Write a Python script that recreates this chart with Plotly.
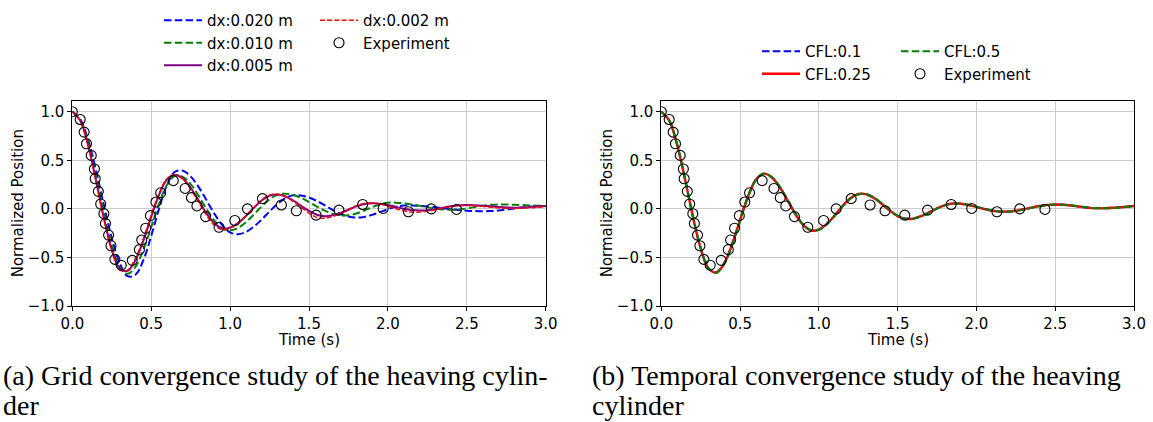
import plotly.graph_objects as go
from plotly.subplots import make_subplots

W, H = 1153, 422

# simulation output times (s)
t_sim = [0.00, 0.05, 0.10, 0.15, 0.20, 0.25, 0.30, 0.35, 0.40, 0.45, 0.50, 0.55, 0.60,
         0.65, 0.70, 0.75, 0.80, 0.85, 0.90, 0.95, 1.00, 1.05, 1.10, 1.15, 1.20, 1.25,
         1.30, 1.35, 1.40, 1.45, 1.50, 1.55, 1.60, 1.65, 1.70, 1.75, 1.80, 1.85, 1.90,
         1.95, 2.00, 2.05, 2.10, 2.15, 2.20, 2.25, 2.30, 2.35, 2.40, 2.45, 2.50, 2.55,
         2.60, 2.65, 2.70, 2.75, 2.80, 2.85, 2.90, 2.95, 3.00]

# (a) grid convergence
dx_020 = [1.000, 0.924, 0.711, 0.397, 0.039, -0.299, -0.558, -0.693, -0.679, -0.529, -0.279, 0.002, 0.244,
          0.382, 0.392, 0.334, 0.226, 0.090, -0.049, -0.168, -0.243, -0.261, -0.238, -0.184, -0.110, -0.027,
          0.050, 0.109, 0.139, 0.138, 0.117, 0.081, 0.036, -0.012, -0.053, -0.080, -0.090, -0.083, -0.062,
          -0.034, -0.004, 0.021, 0.034, 0.034, 0.031, 0.025, 0.017, 0.007, -0.003, -0.012, -0.019, -0.023,
          -0.025, -0.023, -0.017, -0.008, 0.003, 0.013, 0.022, 0.028, 0.030]
dx_010 = [1.000, 0.915, 0.678, 0.335, -0.042, -0.377, -0.601, -0.669, -0.598, -0.423, -0.187, 0.055, 0.245,
          0.339, 0.329, 0.255, 0.136, 0.001, -0.121, -0.201, -0.221, -0.196, -0.138, -0.059, 0.025, 0.098,
          0.144, 0.156, 0.142, 0.113, 0.071, 0.024, -0.019, -0.051, -0.068, -0.067, -0.048, -0.017, 0.018,
          0.048, 0.063, 0.064, 0.057, 0.045, 0.031, 0.015, 0.002, -0.007, -0.010, -0.006, 0.004, 0.018,
          0.031, 0.041, 0.045, 0.044, 0.042, 0.039, 0.035, 0.032, 0.030]
dx_005 = [1.000, 0.909, 0.655, 0.294, -0.091, -0.418, -0.615, -0.638, -0.528, -0.329, -0.084, 0.145, 0.303,
          0.352, 0.313, 0.217, 0.088, -0.045, -0.148, -0.200, -0.193, -0.147, -0.074, 0.010, 0.086, 0.135,
          0.147, 0.128, 0.086, 0.031, -0.022, -0.061, -0.075, -0.066, -0.042, -0.009, 0.025, 0.049, 0.058,
          0.053, 0.039, 0.020, 0.001, -0.013, -0.018, -0.014, -0.004, 0.011, 0.026, 0.036, 0.040, 0.038,
          0.033, 0.026, 0.019, 0.014, 0.012, 0.014, 0.018, 0.023, 0.028]
dx_002 = [1.000, 0.905, 0.645, 0.280, -0.108, -0.432, -0.628, -0.630, -0.510, -0.305, -0.062, 0.160, 0.310,
          0.350, 0.305, 0.202, 0.070, -0.065, -0.168, -0.214, -0.200, -0.150, -0.072, 0.015, 0.094, 0.142,
          0.150, 0.124, 0.075, 0.015, -0.045, -0.088, -0.097, -0.080, -0.047, -0.006, 0.032, 0.056, 0.061,
          0.050, 0.028, 0.002, -0.020, -0.033, -0.034, -0.025, -0.010, 0.008, 0.023, 0.032, 0.035, 0.032,
          0.025, 0.017, 0.010, 0.006, 0.005, 0.007, 0.011, 0.016, 0.021]

# (b) temporal convergence
cfl_01 = [1.000, 0.910, 0.660, 0.306, -0.078, -0.408, -0.613, -0.652, -0.556, -0.360, -0.112, 0.126, 0.298,
          0.360, 0.325, 0.228, 0.092, -0.050, -0.162, -0.219, -0.211, -0.155, -0.068, 0.028, 0.107, 0.151,
          0.149, 0.112, 0.051, -0.016, -0.072, -0.100, -0.098, -0.073, -0.036, 0.005, 0.038, 0.054, 0.052,
          0.039, 0.020, 0.000, -0.018, -0.027, -0.027, -0.019, -0.005, 0.012, 0.027, 0.039, 0.043, 0.041,
          0.034, 0.024, 0.015, 0.009, 0.008, 0.010, 0.015, 0.022, 0.029]
cfl_025 = [1.000, 0.911, 0.662, 0.309, -0.075, -0.406, -0.614, -0.655, -0.559, -0.362, -0.113, 0.127, 0.300,
           0.362, 0.326, 0.228, 0.091, -0.052, -0.165, -0.222, -0.213, -0.156, -0.068, 0.029, 0.109, 0.153,
           0.150, 0.112, 0.050, -0.018, -0.075, -0.103, -0.100, -0.074, -0.036, 0.006, 0.039, 0.055, 0.052,
           0.039, 0.019, -0.002, -0.020, -0.029, -0.028, -0.020, -0.005, 0.013, 0.029, 0.041, 0.045, 0.042,
           0.034, 0.023, 0.013, 0.006, 0.005, 0.008, 0.014, 0.022, 0.030]
cfl_05 = [1.000, 0.913, 0.667, 0.316, -0.068, -0.400, -0.612, -0.658, -0.565, -0.371, -0.123, 0.119, 0.295,
          0.362, 0.330, 0.234, 0.098, -0.045, -0.160, -0.221, -0.215, -0.160, -0.074, 0.023, 0.104, 0.151,
          0.152, 0.116, 0.056, -0.012, -0.070, -0.101, -0.101, -0.077, -0.040, 0.002, 0.036, 0.054, 0.053,
          0.041, 0.022, 0.001, -0.018, -0.028, -0.029, -0.022, -0.008, 0.010, 0.026, 0.038, 0.044, 0.043,
          0.036, 0.026, 0.016, 0.009, 0.006, 0.007, 0.012, 0.020, 0.028]

# experiment
t_exp = [0.0, 0.05, 0.075, 0.09, 0.12, 0.14, 0.145, 0.165, 0.18, 0.2, 0.21, 0.23, 0.245, 0.27,
         0.31, 0.38, 0.425, 0.44, 0.465, 0.495, 0.53, 0.56, 0.64, 0.715, 0.755, 0.79, 0.845,
         0.93, 1.03, 1.11, 1.205, 1.325, 1.42, 1.545, 1.69, 1.84, 1.97, 2.13, 2.275, 2.435]
y_exp = [1.0, 0.92, 0.79, 0.67, 0.55, 0.41, 0.31, 0.18, 0.05, -0.05, -0.15, -0.27, -0.38, -0.52,
         -0.58, -0.53, -0.42, -0.32, -0.2, -0.07, 0.07, 0.165, 0.29, 0.21, 0.115, 0.03, -0.08,
         -0.19, -0.12, 0.0, 0.105, 0.04, -0.02, -0.065, -0.013, 0.045, 0.004, -0.03, 0.0, -0.006]

captions = [["(a) Grid convergence study of the heaving cylin-", "der"],
            ["(b) Temporal convergence study of the heaving", "cylinder"]]

SANS = "DejaVu Sans"
SERIF = "Liberation Serif"

fig = make_subplots(rows=1, cols=2)

def line(y, name, color, width, dash, col, legend):
    fig.add_trace(go.Scatter(x=t_sim, y=y, name=name, mode="lines", line_shape="spline",
                             line=dict(color=color, width=width, dash=dash), legend=legend),
                  row=1, col=col)

def experiment(col, legend):
    fig.add_trace(go.Scatter(x=t_exp, y=y_exp, name="Experiment", mode="markers",
                             marker=dict(symbol="circle-open", size=10, color="black",
                                         line=dict(color="black", width=1.1)),
                             legend=legend), row=1, col=col)

line(dx_020, "dx:0.020 m", "#0000ff", 2, "7.5px,3.3px", 1, "legend")
line(dx_010, "dx:0.010 m", "#008000", 2, "7.5px,3.3px", 1, "legend")
line(dx_005, "dx:0.005 m", "#800080", 2, "solid", 1, "legend")
line(dx_002, "dx:0.002 m", "#ff0000", 1.4, "5px,2.2px", 1, "legend2")
experiment(1, "legend2")

line(cfl_01, "CFL:0.1", "#0000ff", 2, "7.5px,3.3px", 2, "legend3")
line(cfl_025, "CFL:0.25", "#ff0000", 2.4, "solid", 2, "legend3")
line(cfl_05, "CFL:0.5", "#008000", 2, "7.5px,3.3px", 2, "legend4")
experiment(2, "legend4")

ydom = [1 - 306 / H, 1 - 101 / H]
axis_common = dict(showline=True, linecolor="black", linewidth=1, mirror=True,
                   ticks="outside", ticklen=4, tickcolor="black", automargin=False,
                   showgrid=True, gridcolor="#cccccc", gridwidth=1, zeroline=False,
                   tickfont=dict(family=SANS, size=15, color="black"))

title_font = dict(family=SANS, size=15, color="black")
for i, (x0, x1) in enumerate([(72.3, 545.7), (661.3, 1134)], start=1):
    fig.update_xaxes(domain=[x0 / W, x1 / W], range=[0, 3], dtick=0.5, tickformat=".1f",
                     row=1, col=i, **axis_common)
    fig.update_yaxes(domain=ydom, range=[-1, 1.11], tickvals=[-1, -0.5, 0, 0.5, 1],
                     tickformat=".1f", row=1, col=i, **axis_common)
    # axis titles placed where the reference has them
    fig.add_annotation(text="Time (s)", xref="paper", yref="paper", x=(x0 + x1) / 2 / W,
                       y=1 - 340 / H, xanchor="center", yanchor="middle", showarrow=False,
                       borderpad=0, font=title_font)
    fig.add_annotation(text="Normalized Position", xref="paper", yref="paper",
                       x=(x0 - 54) / W, y=1 - 203 / H, textangle=-90, xanchor="center",
                       yanchor="middle", showarrow=False, font=title_font)

leg = dict(font=dict(family=SANS, size=15, color="black"), bgcolor="rgba(0,0,0,0)",
           xanchor="left", yanchor="top", orientation="v", tracegroupgap=0, itemwidth=38)
fig.update_layout(
    legend=dict(x=159 / W, y=1 - 4 / H, **leg),
    legend2=dict(x=315 / W, y=1 - 4 / H, **leg),
    legend3=dict(x=757 / W, y=1 - 35 / H, **leg),
    legend4=dict(x=896 / W, y=1 - 35 / H, **leg),
)

for (l1, l2), x0 in zip(captions, [2, 591]):
    fig.add_annotation(text=l1, xref="paper", yref="paper", x=x0 / W, y=1 - 375 / H,
                       xanchor="left", yanchor="middle", showarrow=False, borderpad=0,
                       font=dict(family=SERIF, size=28, color="black"))
    fig.add_annotation(text=l2, xref="paper", yref="paper", x=x0 / W, y=0,
                       xanchor="left", yanchor="bottom", showarrow=False, borderpad=0,
                       font=dict(family=SERIF, size=28, color="black"))

fig.update_layout(width=W, height=H, margin=dict(l=0, r=0, t=0, b=0, autoexpand=False),
                  plot_bgcolor="white", paper_bgcolor="white", showlegend=True)

fig.write_html("out.html", config={"displayModeBar": False},
               post_script="document.body.style.margin='0';")
